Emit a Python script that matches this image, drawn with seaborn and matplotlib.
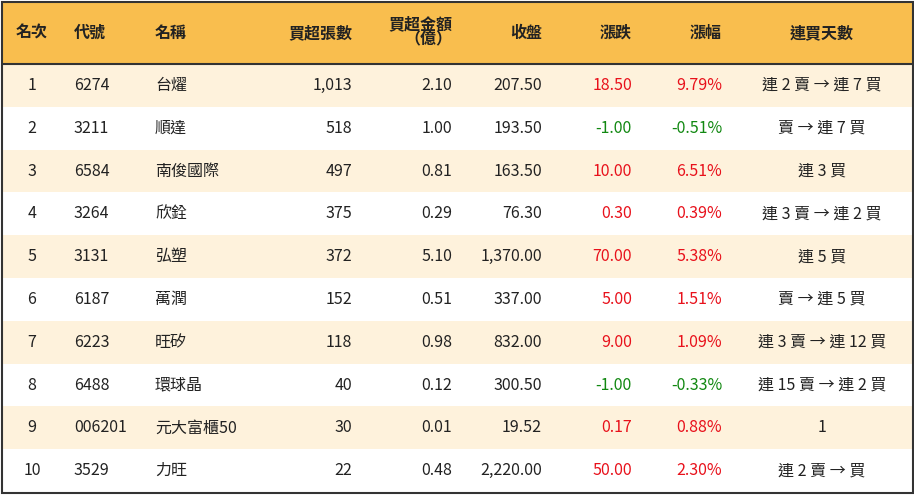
import matplotlib
matplotlib.use("Agg")
import matplotlib.pyplot as plt
import seaborn as sns
import numpy as np

rank = ["1","2","3","4","5","6","7","8","9","10"]
codes = ["6274","3211","6584","3264","3131","6187","6223","6488","006201","3529"]
names = ["台燿","順達","南俊國際","欣銓","弘塑","萬潤","旺矽","環球晶","元大富櫃50","力旺"]
net_lots = ["1,013","518","497","375","372","152","118","40","30","22"]
net_amt = ["2.10","1.00","0.81","0.29","5.10","0.51","0.98","0.12","0.01","0.48"]
close = ["207.50","193.50","163.50","76.30","1,370.00","337.00","832.00","300.50","19.52","2,220.00"]
change = [18.50,-1.00,10.00,0.30,70.00,5.00,9.00,-1.00,0.17,50.00]
pct = [9.79,-0.51,6.51,0.39,5.38,1.51,1.09,-0.33,0.88,2.30]
streak = ["連 2 賣 → 連 7 買","賣 → 連 7 買","連 3 買","連 3 賣 → 連 2 買","連 5 買",
          "賣 → 連 5 買","連 3 賣 → 連 12 買","連 15 賣 → 連 2 買","1","連 2 賣 → 買"]
headers = ["名次","代號","名稱","買超張數","買超金額\n（億）","收盤","漲跌","漲幅","連買天數"]

plt.rcParams["font.family"] = ["Noto Sans CJK TC"]
sns.set_theme(style="white", rc={"font.family": "Noto Sans CJK TC"})
W, H = 914, 496
fig = plt.figure(figsize=(W/100, H/100), dpi=100)
ax = fig.add_axes([0, 0, 1, 1])
ax.set_xlim(0, W); ax.set_ylim(H, 0); ax.axis("off")

n = len(rank)
top, bot = 64, 492
rh = (bot - top) / n
# backgrounds via seaborn heatmap of row parity
par = np.array([[i % 2] for i in range(n)], dtype=float)
from matplotlib.colors import ListedColormap
sns.heatmap(par, ax=ax, cmap=ListedColormap(["#FEF2DC", "#FFFFFF"]), cbar=False,
            xticklabels=False, yticklabels=False)
ax.set_xlim(0, W); ax.set_ylim(H, 0)
ax.collections[0].remove()
for i in range(n):
    ax.axhspan(top + i*rh, top + (i+1)*rh, xmin=2/W, xmax=(W-2)/W,
               color="#FEF2DC" if i % 2 == 0 else "#FFFFFF", lw=0)
ax.axhspan(2, top, xmin=2/W, xmax=(W-2)/W, color="#F9BE4E", lw=0)
ax.plot([2, W-2], [top, top], color="#333333", lw=1.5)
ax.add_patch(plt.Rectangle((1.5, 1.5), W-3, bot-1, fill=False, ec="#333333", lw=1.5))

fs = 11.5
hdr = [(32,"center"),(74,"left"),(155,"left"),(352,"right"),(452,"right"),
       (542,"right"),(632,"right"),(722,"right"),(822,"center")]
for (x, ha), h in zip(hdr, headers):
    if "\n" in h:
        ax.text(x, 32, h, ha=ha, va="center", fontsize=fs, weight="bold", color="#222", linespacing=0.95)
    else:
        ax.text(x, 33, h, ha=ha, va="center", fontsize=fs, weight="bold", color="#222")

for i in range(n):
    y = top + (i+0.5)*rh
    c = "#E8111B" if change[i] > 0 else "#118811"
    vals = [rank[i], codes[i], names[i], net_lots[i], net_amt[i], close[i],
            f"{change[i]:.2f}", f"{pct[i]:.2f}%", streak[i]]
    cols = ["#222"]*6 + [c, c, "#222"]
    for (x, ha), v, col in zip(hdr, vals, cols):
        ax.text(x, y, v, ha=ha, va="center", fontsize=fs, color=col)

fig.savefig("out.png", dpi=100)
